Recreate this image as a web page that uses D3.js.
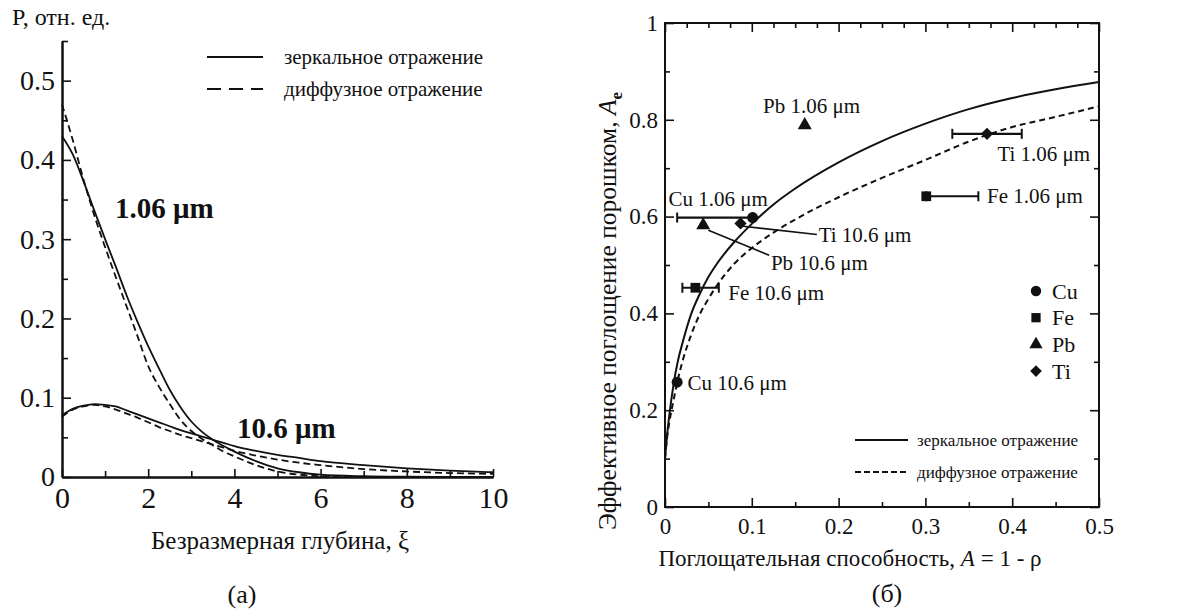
<!DOCTYPE html>
<html>
<head>
<meta charset="utf-8">
<script src="https://cdn.jsdelivr.net/npm/d3@7"></script>
<style>
  html, body { margin: 0; padding: 0; background: #fff; }
  svg { display: block; }
  text { font-family: "Liberation Serif", "Times New Roman", serif; fill: #111; }
</style>
</head>
<body>
<svg id="chart" width="1179" height="614"></svg>
<script>
// ---------------- DATA ----------------
// Panel (a): P vs dimensionless depth xi
const xiGrid = [0,0.25,0.5,0.75,1,1.25,1.5,1.75,2,2.25,2.5,2.75,3,3.25,3.5,3.75,4,4.5,5,5.5,6,7,8,9,10];
const P_106_spec = [0.430,0.407,0.373,0.336,0.300,0.265,0.229,0.196,0.165,0.137,0.110,0.088,0.070,0.057,0.047,0.039,0.032,0.020,0.011,0.006,0.003,0.001,0.0003,0,0];
const P_106_diff = [0.470,0.425,0.375,0.330,0.290,0.252,0.215,0.178,0.140,0.114,0.092,0.072,0.058,0.048,0.040,0.032,0.026,0.015,0.007,0.003,0.001,0,0,0,0];
const P_106um_spec = [0.078,0.086,0.090,0.092,0.091,0.089,0.084,0.079,0.074,0.069,0.064,0.059,0.055,0.051,0.047,0.043,0.039,0.033,0.028,0.024,0.020,0.015,0.011,0.008,0.006];
const P_106um_diff = [0.076,0.085,0.089,0.091,0.089,0.085,0.080,0.075,0.069,0.063,0.058,0.053,0.049,0.045,0.041,0.037,0.033,0.027,0.022,0.018,0.015,0.010,0.007,0.005,0.004];
const leftXTicks = [0,2,4,6,8,10];
const leftYTicks = [0,0.1,0.2,0.3,0.4,0.5];

// Panel (b): effective absorptance Ae vs absorptivity A
const aGrid = [0,0.0025,0.005,0.01,0.015,0.02,0.03,0.04,0.05,0.06,0.08,0.1,0.125,0.15,0.2,0.25,0.3,0.35,0.4,0.45,0.5];
const Ae_spec = [0.10,0.15,0.19,0.255,0.303,0.338,0.398,0.44,0.475,0.503,0.548,0.585,0.625,0.658,0.712,0.756,0.792,0.822,0.845,0.863,0.878];
const Ae_diff = [0.10,0.145,0.175,0.222,0.265,0.30,0.355,0.398,0.43,0.458,0.503,0.535,0.567,0.594,0.64,0.68,0.717,0.755,0.785,0.806,0.828];
const metals   = ["Cu","Fe","Pb","Ti"];
const ptMetal  = ["Cu","Cu","Fe","Fe","Pb","Pb","Ti","Ti"];
const ptWave   = ["10.6","1.06","10.6","1.06","10.6","1.06","10.6","1.06"];
const ptA      = [0.014,0.101,0.035,0.301,0.044,0.161,0.087,0.371];
const ptAe     = [0.258,0.598,0.453,0.642,0.582,0.789,0.586,0.771];
const ptAlo    = [null,0.014,0.020,0.301,null,null,null,0.331];
const ptAhi    = [null,0.101,0.062,0.361,null,null,null,0.411];
const rightXTicks = [0,0.1,0.2,0.3,0.4,0.5];
const rightYTicks = [0,0.2,0.4,0.6,0.8,1];
const legendLabels = ["зеркальное отражение","диффузное отражение"];

// ---------------- DRAW ----------------
const svg = d3.select("#chart");
svg.append("rect").attr("width",1179).attr("height",614).attr("fill","#fff");
const ink = "#111";

function styleAxis(g, fs){
  g.select(".domain").attr("stroke", ink).attr("stroke-width", 2);
  g.selectAll(".tick line").attr("stroke", ink).attr("stroke-width", 1.6);
  g.selectAll(".tick text").attr("font-size", fs).attr("fill", ink)
    .attr("font-family", '"Liberation Serif", "Times New Roman", serif');
}
const fmt = d => (d === 0 ? "0" : d === 1 ? "1" : (d % 1 === 0 ? String(d) : d3.format(".1f")(d)));

// ===== Panel (a) =====
const xL = d3.scaleLinear().domain([0,10]).range([62,493]);
const yL = d3.scaleLinear().domain([0,0.55]).range([477,41]);

const gA = svg.append("g");
gA.append("g").attr("transform","translate(0,477)")
  .call(d3.axisBottom(xL).tickValues([1,3,5,7,9]).tickSize(-6).tickSizeOuter(0).tickFormat(""))
  .call(g => styleAxis(g, 0));
gA.append("g").attr("transform","translate(62,0)")
  .call(d3.axisLeft(yL).tickValues([0.05,0.15,0.25,0.35,0.45,0.55]).tickSize(-6).tickSizeOuter(0).tickFormat(""))
  .call(g => styleAxis(g, 0));
gA.append("g").attr("transform","translate(0,477)")
  .call(d3.axisBottom(xL).tickValues(leftXTicks).tickSize(-8).tickSizeOuter(0).tickPadding(10).tickFormat(fmt))
  .call(g => styleAxis(g, 30));
gA.append("g").attr("transform","translate(62,0)")
  .call(d3.axisLeft(yL).tickValues(leftYTicks).tickSize(-9).tickSizeOuter(0).tickPadding(7).tickFormat(fmt))
  .call(g => styleAxis(g, 28));

const lineL = (ys) => d3.line().x((d,i)=>xL(xiGrid[i])).y(d=>yL(d)).curve(d3.curveMonotoneX)(ys);
[[P_106_spec,null],[P_106_diff,"7,4"],[P_106um_spec,null],[P_106um_diff,"7,4"]].forEach(([ys,dash])=>{
  gA.append("path").attr("d", lineL(ys)).attr("fill","none").attr("stroke",ink)
    .attr("stroke-width",1.8).attr("stroke-dasharray",dash);
});

gA.append("text").attr("x",12).attr("y",25).attr("font-size",24).text("P, отн. ед.");
gA.append("text").attr("x",115).attr("y",218).attr("font-size",29).attr("font-weight","bold").text("1.06 μm");
gA.append("text").attr("x",237).attr("y",438).attr("font-size",29).attr("font-weight","bold").text("10.6 μm");
gA.append("text").attr("x",280).attr("y",549).attr("font-size",25).attr("text-anchor","middle").text("Безразмерная глубина, ξ");
gA.append("text").attr("x",242).attr("y",603).attr("font-size",26).attr("text-anchor","middle").text("(а)");

// legend (a)
[0,1].forEach(i=>{
  const y = 57 + i*32;
  gA.append("line").attr("x1",207).attr("x2",263).attr("y1",y).attr("y2",y)
    .attr("stroke",ink).attr("stroke-width",2).attr("stroke-dasharray", i ? "14,8" : null);
  gA.append("text").attr("x",284).attr("y",y).attr("dy","0.35em").attr("font-size",21).text(legendLabels[i]);
});

// ===== Panel (b) =====
const xR = d3.scaleLinear().domain([0,0.5]).range([665,1099]);
const yR = d3.scaleLinear().domain([0,1]).range([507,23]);
const gB = svg.append("g");

gB.append("rect").attr("x",665).attr("y",23).attr("width",434).attr("height",484)
  .attr("fill","none").attr("stroke",ink).attr("stroke-width",2);

const minorX = d3.range(0.05,0.5,0.1);
const topX = d3.range(0.025,0.5,0.025).filter(v=>Math.abs(v*10-Math.round(v*10))>1e-6);
const minorY = d3.range(0.1,1,0.2);
gB.append("g").attr("transform","translate(0,507)")
  .call(d3.axisBottom(xR).tickValues(minorX).tickSize(-5).tickSizeOuter(0).tickFormat(""))
  .call(g=>{styleAxis(g,0); g.select(".domain").remove();});
gB.append("g").attr("transform","translate(0,507)")
  .call(d3.axisBottom(xR).tickValues(rightXTicks).tickSize(-9).tickSizeOuter(0).tickPadding(11).tickFormat(fmt))
  .call(g=>{styleAxis(g,23); g.select(".domain").remove();});
gB.append("g").attr("transform","translate(0,23)")
  .call(d3.axisTop(xR).tickValues(topX).tickSize(-5).tickSizeOuter(0).tickFormat(""))
  .call(g=>{styleAxis(g,0); g.select(".domain").remove();});
gB.append("g").attr("transform","translate(0,23)")
  .call(d3.axisTop(xR).tickValues(rightXTicks).tickSize(-9).tickSizeOuter(0).tickFormat(""))
  .call(g=>{styleAxis(g,0); g.select(".domain").remove();});
gB.append("g").attr("transform","translate(665,0)")
  .call(d3.axisLeft(yR).tickValues(minorY).tickSize(-5).tickSizeOuter(0).tickFormat(""))
  .call(g=>{styleAxis(g,0); g.select(".domain").remove();});
gB.append("g").attr("transform","translate(665,0)")
  .call(d3.axisLeft(yR).tickValues(rightYTicks).tickSize(-9).tickSizeOuter(0).tickPadding(7).tickFormat(fmt))
  .call(g=>{styleAxis(g,23); g.select(".domain").remove();});
gB.append("g").attr("transform","translate(1099,0)")
  .call(d3.axisRight(yR).tickValues(minorY).tickSize(-5).tickSizeOuter(0).tickFormat(""))
  .call(g=>{styleAxis(g,0); g.select(".domain").remove();});
gB.append("g").attr("transform","translate(1099,0)")
  .call(d3.axisRight(yR).tickValues(rightYTicks).tickSize(-9).tickSizeOuter(0).tickFormat(""))
  .call(g=>{styleAxis(g,0); g.select(".domain").remove();});

const lineR = (ys) => d3.line().x((d,i)=>xR(aGrid[i])).y(d=>yR(d)).curve(d3.curveMonotoneX)(ys);
gB.append("path").attr("d", lineR(Ae_spec)).attr("fill","none").attr("stroke",ink).attr("stroke-width",2);
gB.append("path").attr("d", lineR(Ae_diff)).attr("fill","none").attr("stroke",ink).attr("stroke-width",2).attr("stroke-dasharray","6,4");

// leader lines (Ti 10.6, Pb 10.6)
gB.append("line").attr("x1",xR(0.090)).attr("y1",yR(0.580)).attr("x2",xR(0.175)).attr("y2",yR(0.563)).attr("stroke",ink).attr("stroke-width",1.6);
gB.append("line").attr("x1",xR(0.050)).attr("y1",yR(0.572)).attr("x2",xR(0.120)).attr("y2",yR(0.520)).attr("stroke",ink).attr("stroke-width",1.6);

// error bars
ptA.forEach((a,i)=>{
  if (ptAlo[i] === null) return;
  const y = yR(ptAe[i]);
  gB.append("line").attr("x1",xR(ptAlo[i])).attr("x2",xR(ptAhi[i])).attr("y1",y).attr("y2",y).attr("stroke",ink).attr("stroke-width",2.2);
  [ptAlo[i],ptAhi[i]].forEach(v=>{
    gB.append("line").attr("x1",xR(v)).attr("x2",xR(v)).attr("y1",y-5).attr("y2",y+5).attr("stroke",ink).attr("stroke-width",2);
  });
});

// markers
const symType = {Cu:d3.symbolCircle, Fe:d3.symbolSquare, Pb:d3.symbolTriangle, Ti:d3.symbolSquare};
const symSize = {Cu:95, Fe:95, Pb:85, Ti:75};
const symRot  = {Cu:0, Fe:0, Pb:0, Ti:45};
ptA.forEach((a,i)=>{
  const m = ptMetal[i];
  gB.append("path").attr("d", d3.symbol().type(symType[m]).size(symSize[m])())
    .attr("transform",`translate(${xR(a)},${yR(ptAe[i])}) rotate(${symRot[m]})`).attr("fill",ink);
});

// point labels
const labelPos = [
  {i:0, a:0.026, e:0.256},
  {i:1, a:0.004, e:0.637},
  {i:2, a:0.073, e:0.443},
  {i:3, a:0.371, e:0.643},
  {i:4, a:0.122, e:0.504},
  {i:5, a:0.113, e:0.829},
  {i:6, a:0.177, e:0.563},
  {i:7, a:0.383, e:0.731}
];
labelPos.forEach(p=>{
  gB.append("text").attr("x",xR(p.a)).attr("y",yR(p.e)).attr("dy","0.35em").attr("font-size",21)
    .text(`${ptMetal[p.i]} ${ptWave[p.i]} μm`);
});

// metal legend
metals.forEach((m,k)=>{
  const y = 291 + k*26.7;
  gB.append("path").attr("d", d3.symbol().type(symType[m]).size(symSize[m]*0.9)())
    .attr("transform",`translate(1036,${y}) rotate(${symRot[m]})`).attr("fill",ink);
  gB.append("text").attr("x",1052).attr("y",y).attr("dy","0.35em").attr("font-size",22).text(m);
});

// line legend
[0,1].forEach(i=>{
  const y = 440 + i*32;
  gB.append("line").attr("x1",855).attr("x2",908).attr("y1",y).attr("y2",y)
    .attr("stroke",ink).attr("stroke-width",2).attr("stroke-dasharray", i ? "6,3" : null);
  gB.append("text").attr("x",917).attr("y",y).attr("dy","0.35em").attr("font-size",17).text(legendLabels[i]);
});

// axis titles
const xt = gB.append("text").attr("x",850).attr("y",566).attr("font-size",23).attr("text-anchor","middle");
xt.append("tspan").text("Поглощательная способность,  ");
xt.append("tspan").attr("font-style","italic").text("A");
xt.append("tspan").text(" = 1 - ρ");

const yt = gB.append("text").attr("transform","translate(616,311) rotate(-90)").attr("font-size",25.5).attr("text-anchor","middle");
yt.append("tspan").text("Эффективное поглощение порошком, ");
yt.append("tspan").attr("font-style","italic").text("A");
yt.append("tspan").attr("font-size",17).attr("font-weight","bold").attr("dy",6).text("e");

gB.append("text").attr("x",887).attr("y",602).attr("font-size",26).attr("text-anchor","middle").text("(б)");
</script>
</body>
</html>
